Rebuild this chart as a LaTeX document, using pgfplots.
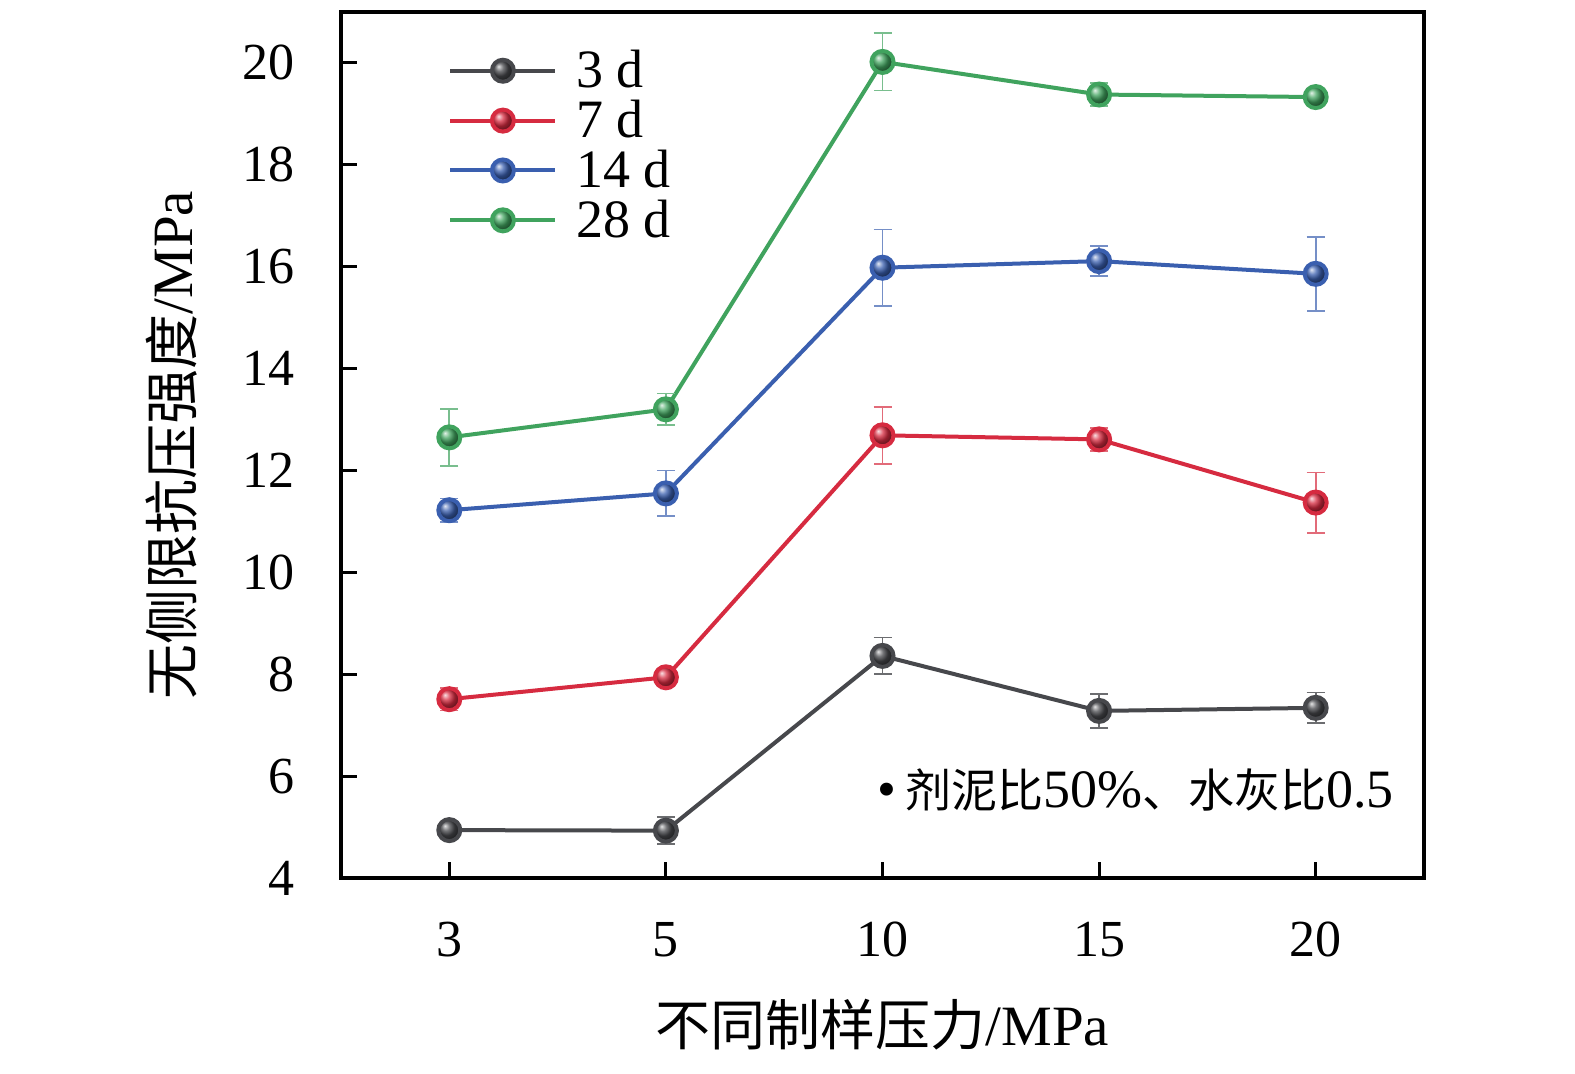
\documentclass[border=0pt]{standalone}
\usepackage{fontspec}
\setmainfont{Liberation Serif}
\newfontfamily\cjk{Noto Sans CJK SC}
\usepackage{pgfplots}
\pgfplotsset{compat=1.18}
\usepackage{pgfplotstable}
\definecolor{cA}{HTML}{47484C}
\definecolor{cB}{HTML}{D62B40}
\definecolor{cC}{HTML}{3A5FAF}
\definecolor{cD}{HTML}{40A35E}

\pgfplotstableread{
x y e
0 4.94 0.10
1 4.93 0.27
2 8.36 0.36
3 7.28 0.33
4 7.34 0.30
}\dA
\pgfplotstableread{
x y e
0 7.51 0.22
1 7.94 0.10
2 12.69 0.56
3 12.61 0.22
4 11.37 0.59
}\dB
\pgfplotstableread{
x y e
0 11.22 0.23
1 11.55 0.45
2 15.98 0.75
3 16.11 0.29
4 15.86 0.73
}\dC
\pgfplotstableread{
x y e
0 12.65 0.56
1 13.20 0.31
2 20.02 0.56
3 19.38 0.23
4 19.33 0.10
}\dD

\newcommand{\lab}{\fontsize{28.5}{32}\selectfont}
\newcommand{\cjklab}{\cjk\fontsize{27.5}{32}\selectfont}

\begin{document}
\begin{tikzpicture}
\path[use as bounding box] (0,0) rectangle (787.5pt,536.5pt);
\begin{axis}[
  at={(170.5pt,97.5pt)}, anchor=south west,
  scale only axis, width=541.5pt, height=433pt,
  xmin=-0.5, xmax=4.5, ymin=4, ymax=21,
  xtick={0,1,2,3,4}, xticklabels={3,5,10,15,20},
  ytick={4,6,8,10,12,14,16,18,20},
  tick align=inside, tick pos=left,
  major tick length=8pt,
  major tick style={black, line width=1.5pt},
  axis line style={black, line width=1.6pt},
  /pgf/number format/assume math mode=true,
  tick label style={font=\fontsize{26}{30}\selectfont},
  yticklabel style={anchor=east, inner sep=0pt, xshift=-23pt},
  xticklabel style={anchor=north, inner sep=0pt, yshift=-22pt},
  xlabel={{\cjklab 不同制样压力}/MPa},
  ylabel={{\cjklab 无侧限抗压强度}/MPa},
  label style={font=\lab},
  xlabel style={at={(axis description cs:0.5,-0.1697)}, anchor=center, inner sep=0pt},
  ylabel style={at={(axis description cs:-0.156,0.5)}, anchor=center, inner sep=0pt},
  legend style={at={(axis description cs:0.0988,0.9560)}, anchor=north west,
    draw=none, fill=none, inner sep=0pt, row sep=4.7pt,
    font=\fontsize{27}{30}\selectfont,
    nodes={inner sep=0pt},
    /tikz/every odd column/.append style={column sep=9.5pt}},
  legend cell align=left,
  legend image code/.code={\draw[mark repeat=2,mark phase=2,#1] plot coordinates {(0pt,0pt) (26.25pt,0pt) (52.5pt,0pt)};},
  clip=false,
]
\addplot[cA, line width=2pt, mark=ball, mark size=5.5pt, mark options={ball color=cA},
  error bars/.cd, y dir=both, y explicit,
  error bar style={line width=0.9pt, cA!80!white},
  error mark options={rotate=90, mark size=4.5pt, line width=0.9pt, cA!80!white}]
  table[x=x, y=y, y error=e] {\dA};
\addlegendentry{3 d}
\addplot[cB, line width=2pt, mark=ball, mark size=5.5pt, mark options={ball color=cB},
  error bars/.cd, y dir=both, y explicit,
  error bar style={line width=0.9pt, cB!70!white},
  error mark options={rotate=90, mark size=4.5pt, line width=0.9pt, cB!70!white}]
  table[x=x, y=y, y error=e] {\dB};
\addlegendentry{7 d}
\addplot[cC, line width=2pt, mark=ball, mark size=5.5pt, mark options={ball color=cC},
  error bars/.cd, y dir=both, y explicit,
  error bar style={line width=0.9pt, cC!70!white},
  error mark options={rotate=90, mark size=4.5pt, line width=0.9pt, cC!70!white}]
  table[x=x, y=y, y error=e] {\dC};
\addlegendentry{14 d}
\addplot[cD, line width=2pt, mark=ball, mark size=5.5pt, mark options={ball color=cD},
  error bars/.cd, y dir=both, y explicit,
  error bar style={line width=0.9pt, cD!70!white},
  error mark options={rotate=90, mark size=4.5pt, line width=0.9pt, cD!70!white}]
  table[x=x, y=y, y error=e] {\dD};
\addlegendentry{28 d}
\node[anchor=west, inner sep=0pt, font=\fontsize{27}{30}\selectfont] at (rel axis cs:0.495,0.1016)
  {\textbullet\,{\cjk\fontsize{23}{28}\selectfont 剂泥比}50\%{\cjk\fontsize{23}{28}\selectfont 、水灰比}0.5};
\end{axis}
\end{tikzpicture}
\end{document}
